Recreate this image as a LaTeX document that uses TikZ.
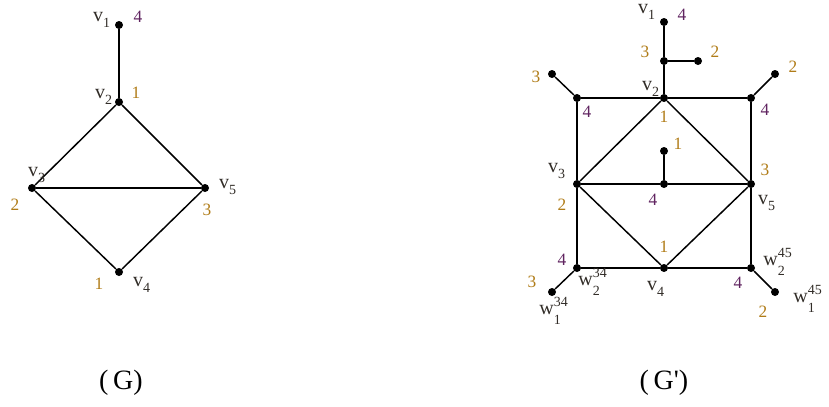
\documentclass[tikz,border=0pt]{standalone}
\usepackage{amsmath}
\usepackage{fontspec}
\setmainfont{Liberation Serif}
\usetikzlibrary{positioning, calc}
\definecolor{numgold}{RGB}{176,124,24}
\definecolor{numplum}{RGB}{96,36,96}
\definecolor{vdark}{RGB}{50,45,40}
\newcommand\vlab[1]{$\text{v}_{\text{\raisebox{-2pt}{#1}}}$}
\newcommand\wlab[2]{$\text{w}^{\text{\raisebox{1pt}{#1}}}_{\text{\raisebox{-4pt}{#2}}}$}
\tikzset{
  vtx/.style={circle, fill=black, inner sep=0pt, minimum size=6pt},
  link/.style={line width=1.1pt},
  lbl/.style={font=\fontsize{13}{15}\selectfont, inner sep=0pt},
  vname/.style={font=\fontsize{15}{17}\selectfont, inner sep=0pt, text=vdark},
  capt/.style={font=\fontsize{21}{23}\selectfont, inner sep=0pt},
}
\begin{document}
\begin{tikzpicture}[x=0.75pt, y=-0.75pt]
  \useasboundingbox (0,0) rectangle (829,407);

  % graph G
  \node[vtx] (g1) at (119,25) {};
  \node[vtx] (g2) at (119,102) {};
  \node[vtx] (g3) at (32,188) {};
  \node[vtx] (g5) at (205,188) {};
  \node[vtx] (g4) at (119,272) {};

  \draw[link] (g1) -- (g2);
  \draw[link] (g3) -- (g2) -- (g5);
  \draw[link] (g3) -- (g5);
  \draw[link] (g3) -- (g4) -- (g5);

  % graph G'
  \node[vtx] (h1) at (664,22) {};
  \node[vtx] (hm) at (664,61) {};
  \node[vtx] (hp) at (698,61) {};
  \node[vtx] (h2) at (664,98) {};
  \node[vtx] (htl) at (577,98) {};
  \node[vtx] (htr) at (751,98) {};
  \node[vtx] (hptl) at (552,74) {};
  \node[vtx] (hptr) at (775,74) {};
  \node[vtx] (hpc) at (664,151) {};
  \node[vtx] (h3) at (577,184) {};
  \node[vtx] (hc) at (664,184) {};
  \node[vtx] (h5) at (751,184) {};
  \node[vtx] (h4) at (664,268) {};
  \node[vtx] (hbl) at (577,268) {};
  \node[vtx] (hbr) at (751,268) {};
  \node[vtx] (hpbl) at (552,292) {};
  \node[vtx] (hpbr) at (775,292) {};

  \draw[link] (h1) -- (hm) -- (h2);
  \draw[link] (hm) -- (hp);
  \draw[link] (htl) -- (h2) -- (htr) -- (h5) -- (hbr) -- (h4) -- (hbl) -- (h3) -- (htl);
  \draw[link] (h3) -- (h2) -- (h5) -- (h4) -- (h3);
  \draw[link] (h3) -- (hc) -- (h5);
  \draw[link] (hc) -- (hpc);
  \foreach \a/\b in {htl/hptl, htr/hptr, hbl/hpbl, hbr/hpbr}
    \draw[link] (\a) -- (\b);

  % vertex names
  \foreach \at/\dx/\dy/\txt in {g1/-17/-5/\vlab{1}, g2/-15/-5/\vlab{2},
      g3/5/-13/\vlab{3}, g5/23/-1/\vlab{5}, g4/23/13/\vlab{4},
      h1/-17/-10/\vlab{1}, h2/-13/-9/\vlab{2}, h3/-20/-13/\vlab{3},
      h5/16/19/\vlab{5}, h4/-8/21/\vlab{4},
      hbl/16/14/\wlab{34}{2}, hpbl/2/19/\wlab{34}{1},
      hbr/27/-6/\wlab{45}{2}, hpbr/33/7/\wlab{45}{1}}
    \node[vname] (\at-name) at ($(\at)+(\dx,\dy)$) {\txt};

  % colour numbers
  \foreach \at/\dx/\dy/\col/\num in {g1/19/-8/numplum/4, g2/17/-9/numgold/1,
      g3/-17/17/numgold/2, g5/2/22/numgold/3, g4/-20/12/numgold/1,
      h1/18/-7/numplum/4, hm/-19/-9/numgold/3, hp/17/-9/numgold/2,
      h2/0/19/numgold/1, htl/10/14/numplum/4, hptl/-16/3/numgold/3,
      htr/14/12/numplum/4, hptr/18/-7/numgold/2, hpc/14/-7/numgold/1,
      h3/-15/21/numgold/2, hc/-11/16/numplum/4, h5/14/-14/numgold/3,
      h4/0/-21/numgold/1, hbl/-15/-8/numplum/4, hpbl/-20/-10/numgold/3,
      hbr/-13/15/numplum/4, hpbr/-12/20/numgold/2}
    \node[lbl, text=\col] (\at-num) at ($(\at)+(\dx,\dy)$) {\num};

  % captions
  \node[capt] (capG) at (121,383) {(\,G)};
  \node[capt] (capGp) at (664,383) {(\,G\textquotesingle)};

\end{tikzpicture}
\end{document}
